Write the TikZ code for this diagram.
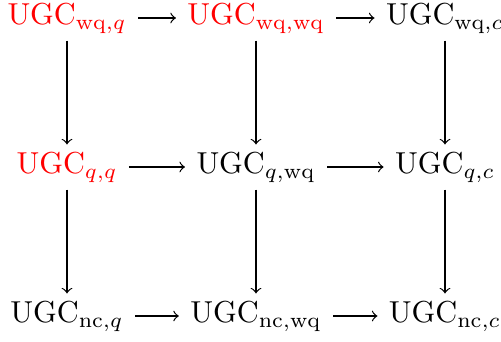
\documentclass[tikz,border=0pt]{standalone}
\usepackage{amsmath}

\tikzset{every picture/.style={line width=0.4pt}}
\tikzset{
  obj/.style={inner xsep=3.6pt, inner ysep=2.5pt, text height=7pt, text depth=2.5pt},
  hot/.style={obj, text=red},
  map/.style={->}
}

\begin{document}
\begin{tikzpicture}[x=0.33pt,y=0.33pt,yscale=-1,xscale=1]
\useasboundingbox (0,0) rectangle (501,341);

% Text Node
\node [hot] (wqq) at (67,18) {$\mathrm{UGC}_{\mathrm{wq},q}$};
% Text Node
\node [hot] (wqwq) at (256,18) {$\mathrm{UGC}_{\mathrm{wq},\mathrm{wq}}$};
% Text Node
\node [obj] (wqc) at (445,18) {$\mathrm{UGC}_{\mathrm{wq},c}$};
% Text Node
\node [hot] (qq) at (67,167) {$\mathrm{UGC}_{q,q}$};
% Text Node
\node [obj] (qwq) at (256,167) {$\mathrm{UGC}_{q,\mathrm{wq}}$};
% Text Node
\node [obj] (qc) at (445,167) {$\mathrm{UGC}_{q,c}$};
% Text Node
\node [obj] (ncq) at (67,316) {$\mathrm{UGC}_{\mathrm{nc},q}$};
% Text Node
\node [obj] (ncwq) at (256,316) {$\mathrm{UGC}_{\mathrm{nc},\mathrm{wq}}$};
% Text Node
\node [obj] (ncc) at (445,316) {$\mathrm{UGC}_{\mathrm{nc},c}$};

%Straight Lines
\draw [map] (wqq) -- (wqwq);
\draw [map] (wqwq) -- (wqc);
\draw [map] (qq) -- (qwq);
\draw [map] (qwq) -- (qc);
\draw [map] (ncq) -- (ncwq);
\draw [map] (ncwq) -- (ncc);
%Straight Lines
\draw [map] (wqq) -- (qq);
\draw [map] (qq) -- (ncq);
\draw [map] (wqwq) -- (qwq);
\draw [map] (qwq) -- (ncwq);
\draw [map] (wqc) -- (qc);
\draw [map] (qc) -- (ncc);

\end{tikzpicture}
\end{document}
